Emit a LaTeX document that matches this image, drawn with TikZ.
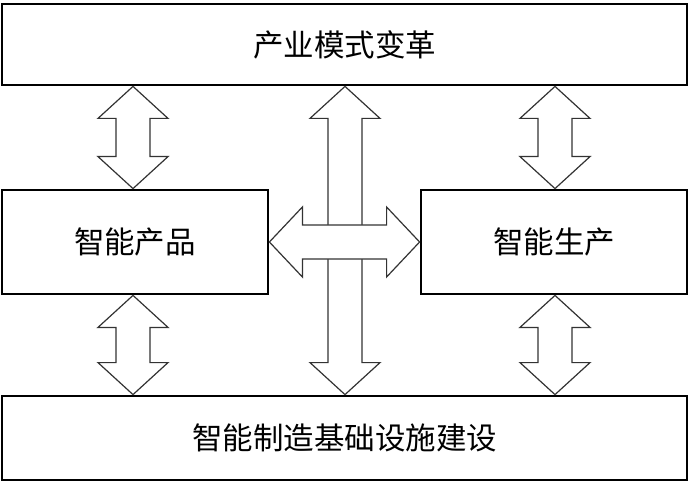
\documentclass[tikz,border=0pt]{standalone}
\usepackage{fontspec}
\newfontfamily\cjk{Noto Sans CJK SC}
\usetikzlibrary{calc}

% double arrow standing between two boxes
\newcommand{\vlink}[3]{%
  \coordinate (vx) at (#1,0);
  \draw[linkarrow] let \p1=(vx |- #2.south), \p2=(vx |- #3.north) in
    (\p1) -- (\x1+35pt,\y1-32pt) -- (\x1+17pt,\y1-32pt) -- (\x1+17pt,\y2+32pt)
    -- (\x1+35pt,\y2+32pt) -- (\p2) -- (\x1-35pt,\y2+32pt) -- (\x1-17pt,\y2+32pt)
    -- (\x1-17pt,\y1-32pt) -- (\x1-35pt,\y1-32pt) -- cycle;
}

\begin{document}
\begin{tikzpicture}[x=1pt,y=1pt,
    box/.style={draw, line width=2.8pt, inner sep=0pt, font=\cjk\fontsize{30.5}{33}\selectfont},
    linkarrow/.style={draw=black!80, line width=1.2pt, fill=white, line join=miter}]

\useasboundingbox (0,0) rectangle (689,483);

\node[box, minimum width=685pt, minimum height=81pt] (reform) at (344.5,438.5) {产业模式变革};
\node[box, minimum width=266pt, minimum height=104pt] (product) at (135,241) {智能产品};
\node[box, minimum width=266pt, minimum height=104pt] (production) at (554,241) {智能生产};
\node[box, minimum width=685pt, minimum height=84pt] (base) at (344.5,45) {智能制造基础设施建设};

\vlink{133}{reform}{product}
\vlink{133}{product}{base}
\vlink{555}{reform}{production}
\vlink{555}{production}{base}
\vlink{345}{reform}{base}

\draw[linkarrow] let \p1=(product.east), \p2=(production.west) in
    (\p1) -- (\x1+33pt,\y1+35pt) -- (\x1+33pt,\y1+17pt) -- (\x2-33pt,\y1+17pt)
    -- (\x2-33pt,\y1+35pt) -- (\p2) -- (\x2-33pt,\y1-35pt) -- (\x2-33pt,\y1-17pt)
    -- (\x1+33pt,\y1-17pt) -- (\x1+33pt,\y1-35pt) -- cycle;

\end{tikzpicture}
\end{document}
